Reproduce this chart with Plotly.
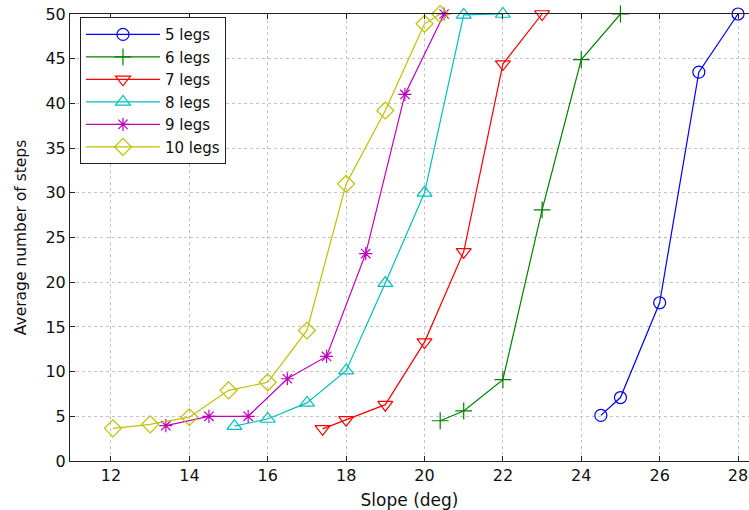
import plotly.graph_objects as go

names = ["5 legs", "6 legs", "7 legs", "8 legs", "9 legs", "10 legs"]

x5 = [24.5, 25, 26, 27, 28]
y5 = [5.1, 7.1, 17.7, 43.5, 50]

x6 = [20.4, 21, 22, 23, 24, 25]
y6 = [4.5, 5.6, 9.1, 28.1, 44.9, 50]

x7 = [17.4, 18, 19, 20, 21, 22, 23]
y7 = [3.6, 4.6, 6.3, 13.3, 23.4, 44.4, 50]

x8 = [15.15, 16, 17, 18, 19, 20, 21, 22]
y8 = [3.9, 4.7, 6.5, 10.1, 19.9, 30.0, 49.9, 50]

x9 = [13.4, 14.5, 15.5, 16.5, 17.5, 18.5, 19.5, 20.5]
y9 = [3.95, 5.0, 5.0, 9.2, 11.7, 23.2, 41.0, 50]

x10 = [12.05, 13, 14, 15, 16, 17, 18, 19, 20, 20.4]
y10 = [3.65, 4.1, 4.9, 7.9, 8.8, 14.6, 31.0, 39.2, 48.9, 50]

xs = [x5, x6, x7, x8, x9, x10]
ys = [y5, y6, y7, y8, y9, y10]

colors = ["#0000FF", "#008000", "#FF0000", "#00BFBF", "#BF00BF", "#BFBF00"]
symbols = ["circle-open", "cross-thin-open", "triangle-down-open",
           "triangle-up-open", "asterisk-open", "diamond-open"]
sizes = [12, 12, 13, 13, 11, 13]

fig = go.Figure()
for n, x, y, c, s, sz in zip(names, xs, ys, colors, symbols, sizes):
    fig.add_trace(go.Scatter(
        x=x, y=y, name=n, mode="lines+markers",
        line=dict(color=c, width=1.2),
        marker=dict(symbol=s, size=sz, color=c, line=dict(color=c, width=1.2)),
        cliponaxis=False,
    ))

font_family = "DejaVu Sans, Liberation Sans, Arial, sans-serif"

fig.update_layout(
    width=749, height=510,
    margin=dict(l=70, r=0, t=14, b=49),
    paper_bgcolor="white", plot_bgcolor="white",
    font=dict(family=font_family, size=16, color="#111"),
    showlegend=True,
    legend=dict(
        x=0.0147, y=0.993, xanchor="left", yanchor="top",
        bgcolor="white", bordercolor="#222", borderwidth=1,
        font=dict(size=15, color="#111"),
        itemwidth=74, tracegroupgap=0,
    ),
    xaxis=dict(
        range=[10.954, 28.28], tickmode="array",
        tickvals=[12, 14, 16, 18, 20, 22, 24, 26, 28],
        showgrid=True, gridcolor="#c4c4c4", griddash="dot", gridwidth=1,
        zeroline=False, showline=True, linecolor="#222", linewidth=1,
        mirror="ticks", ticks="inside", ticklen=5, tickcolor="#222",
        tickfont=dict(size=16), automargin=False, ticklabeloverflow="allow",
        title=dict(text="Slope (deg)", font=dict(size=17)),
    ),
    yaxis=dict(
        range=[0, 50], tickmode="array",
        tickvals=[0, 5, 10, 15, 20, 25, 30, 35, 40, 45, 50],
        showgrid=True, gridcolor="#c4c4c4", griddash="dot", gridwidth=1,
        zeroline=False, showline=True, linecolor="#222", linewidth=1,
        ticks="inside", ticklen=5, tickcolor="#222",
        tickfont=dict(size=16), automargin=False, ticklabeloverflow="allow",
        title=dict(text="Average number of steps", font=dict(size=15.5)),
    ),
)

fig.write_html("out.html",
               config={"displayModeBar": False},
               post_script="document.body.style.margin='0';document.body.style.overflow='hidden';")
